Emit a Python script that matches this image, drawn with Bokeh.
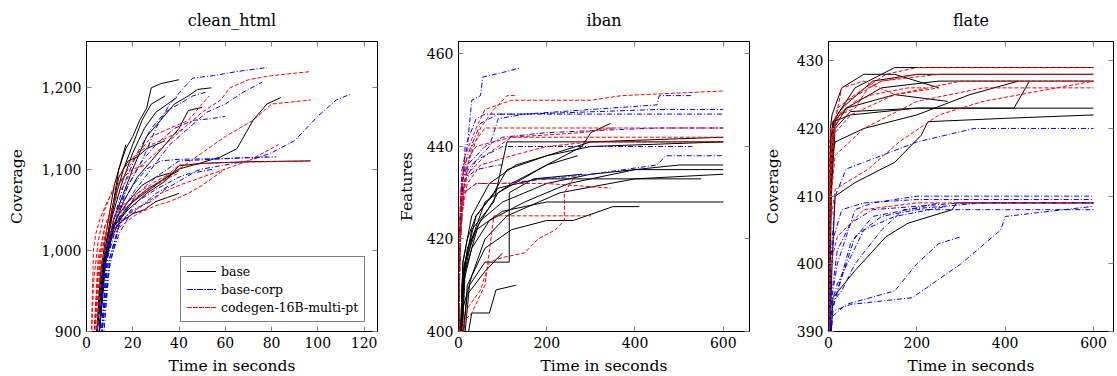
from bokeh.plotting import figure
from bokeh.layouts import row
from bokeh.models import Range1d, LinearAxis, FixedTicker, NumeralTickFormatter, CustomJSTickFormatter
from bokeh.embed import file_html
from bokeh.resources import INLINE

FONT = "DejaVu Serif"

SERIES = ["base", "base-corp", "codegen-16B-multi-pt"]
TITLES = ["clean_html", "iban", "flate"]
YLABELS = ["Coverage", "Features", "Coverage"]
XLABEL = "Time in seconds"

# ---- clean_html runs: (time, coverage) ----
CLEAN_BASE = [
    [(4,880),(6,960),(8,1000),(10,1030),(12,1065),(14,1100),(17,1125),(20,1140),(23,1160),(26,1175),(28,1200),(32,1205),(40,1210)],
    [(4,880),(7,980),(10,1030),(13,1070),(16,1100),(20,1130),(24,1160),(28,1180),(34,1190)],
    [(5,880),(8,990),(12,1040),(16,1070),(20,1100),(26,1140),(32,1160),(38,1180),(44,1190),(48,1198),(54,1200)],
    [(5,880),(8,985),(12,1030),(16,1060),(22,1090),(28,1110),(34,1130),(40,1150),(44,1172),(50,1176)],
    [(5,880),(8,990),(12,1030),(18,1055),(25,1070),(32,1085),(40,1100),(50,1108),(58,1115),(65,1125),(68,1140),(72,1160),(78,1180),(84,1188)],
    [(5,880),(8,980),(12,1030),(18,1050),(26,1070),(34,1085),(40,1104),(50,1107),(70,1109),(97,1110)],
    [(4,880),(7,970),(10,1010),(15,1040),(20,1060),(26,1075),(32,1085),(36,1092),(40,1098)],
    [(4,880),(6,970),(9,1030),(12,1080),(15,1110),(17,1130)],
    [(5,880),(8,990),(11,1040),(15,1080),(20,1120),(25,1150),(30,1170),(35,1180),(39,1188)],
    [(4,880),(7,975),(10,1020),(15,1035),(20,1045),(25,1050),(30,1060),(35,1065),(40,1070)],
    [(5,880),(8,1000),(11,1050),(14,1090),(18,1110),(22,1115),(26,1125),(30,1130),(34,1135)],
    [(5,880),(9,1010),(13,1040),(18,1060),(24,1080),(30,1090),(36,1095)],
]
CLEAN_CORP = [
    [(5,880),(8,980),(12,1040),(18,1080),(24,1110),(30,1150),(36,1180),(42,1200),(46,1212),(55,1215),(65,1220),(78,1225)],
    [(6,880),(9,990),(14,1040),(20,1070),(28,1100),(36,1130),(44,1150),(52,1170),(60,1180),(68,1195),(76,1207)],
    [(6,880),(9,980),(14,1030),(22,1060),(30,1075),(40,1090),(50,1100),(60,1105),(70,1110),(80,1120),(90,1135),(100,1165),(108,1185),(114,1192)],
    [(6,880),(10,990),(15,1040),(22,1070),(30,1090),(40,1110),(55,1112),(70,1114),(82,1115)],
    [(5,880),(8,985),(12,1040),(16,1080),(22,1120),(28,1150),(34,1170),(40,1180),(46,1190),(52,1195)],
    [(6,880),(9,990),(13,1040),(18,1080),(24,1110),(30,1130),(38,1150),(46,1160),(54,1162),(60,1165)],
    [(6,880),(10,980),(14,1030),(20,1050),(28,1060),(34,1075),(40,1085),(46,1095),(55,1100)],
    [(7,880),(10,985),(14,1020),(18,1040),(24,1055),(30,1070),(36,1080)],
    [(6,880),(9,1000),(12,1040),(16,1060),(20,1080),(26,1100),(32,1110),(40,1112),(60,1113),(78,1115)],
]
CLEAN_CG = [
    [(3,880),(5,980),(8,1030),(12,1060),(18,1090),(26,1110),(34,1130),(42,1150),(50,1170),(58,1185),(62,1200),(70,1210),(80,1215),(97,1220)],
    [(3,880),(5,970),(8,1020),(14,1050),(22,1070),(30,1085),(40,1100),(50,1120),(60,1140),(66,1150),(72,1160),(80,1180),(97,1185)],
    [(3,880),(6,980),(10,1020),(16,1040),(24,1055),(32,1070),(40,1080),(50,1090),(60,1100),(70,1110),(83,1130)],
    [(4,880),(6,990),(10,1040),(14,1080),(20,1110),(28,1140),(36,1150),(44,1160),(50,1180),(53,1190)],
    [(3,880),(5,970),(9,1010),(15,1030),(22,1045),(30,1055),(36,1060),(44,1070),(50,1080),(55,1090),(60,1100)],
    [(2,880),(3,960),(5,1010),(8,1050),(12,1080),(16,1100),(22,1120),(28,1130),(36,1140),(42,1150)],
    [(3,880),(5,990),(8,1030),(12,1050),(18,1060),(24,1070),(30,1080),(36,1090),(40,1095)],
    [(4,880),(7,990),(12,1040),(20,1060),(30,1080),(40,1105),(60,1108),(97,1110)],
    [(2,880),(3,1000),(4,1020),(6,1040),(9,1060),(12,1075),(16,1090),(20,1100),(26,1105)],
]

# ---- iban runs: (time, features) ----
IBAN_BASE = [
    [(2,385),(5,400),(10,415),(20,420),(40,425),(80,430),(110,435),(200,438),(300,441),(600,442)],
    [(3,390),(8,410),(20,418),(50,424),(100,428),(200,432),(300,434),(500,436),(600,436)],
    [(4,390),(10,405),(30,412),(60,420),(110,425),(230,430),(400,433),(600,434)],
    [(3,385),(10,410),(30,418),(70,424),(150,428),(250,432),(400,435),(600,435)],
    [(4,390),(15,415),(40,422),(100,426),(200,428),(600,428)],
    [(3,390),(12,412),(30,420),(60,428),(120,432),(200,436),(280,440),(300,443),(345,445)],
    [(5,390),(30,404),(70,404),(85,409),(130,410)],
    [(5,395),(20,408),(60,413),(100,417)],
    [(4,390),(20,410),(60,418),(120,422),(200,424),(260,424),(350,427),(410,427)],
    [(3,390),(10,412),(30,422),(80,428),(110,441),(300,441),(600,441)],
    [(3,390),(12,414),(40,425),(90,431),(180,433),(330,433),(550,433)],
    [(4,390),(15,413),(45,423),(90,430),(200,436),(270,438)],
    [(3,395),(10,415),(30,425),(70,432),(130,436),(200,438),(300,440),(600,441)],
    [(5,390),(25,410),(60,415),(115,415),(115,430),(170,433),(280,434)],
]
IBAN_CORP = [
    [(1,400),(3,425),(8,435),(20,440),(30,450),(50,451),(55,455),(100,456),(140,457)],
    [(1,400),(3,420),(8,430),(15,440),(40,446),(60,447),(150,447),(450,448),(600,448)],
    [(1,400),(3,422),(8,432),(20,438),(50,445),(90,447),(300,447),(600,447)],
    [(1,400),(3,420),(7,432),(20,436),(60,440),(100,442),(200,443),(450,444),(600,444)],
    [(1,400),(3,420),(10,432),(40,437),(100,440),(300,440),(470,440),(530,440)],
    [(1,400),(3,418),(12,430),(40,432),(100,432),(200,433),(300,434),(450,436),(470,438),(600,438)],
    [(1,400),(3,420),(8,433),(30,436),(70,440),(90,446),(150,447),(300,448),(450,449),(455,451),(530,451)],
    [(1,400),(3,415),(7,428),(15,433),(40,435),(90,436),(100,436)],
]
IBAN_CG = [
    [(1,400),(3,420),(7,430),(15,438),(40,444),(60,448),(120,450),(300,450),(370,451),(600,452)],
    [(1,400),(3,418),(7,428),(20,436),(50,444),(80,448),(110,451),(130,451)],
    [(1,400),(3,420),(10,430),(30,440),(60,444),(200,444),(600,444)],
    [(1,400),(3,418),(8,428),(20,434),(60,438),(120,442),(250,442),(600,442)],
    [(1,400),(3,415),(7,425),(20,432),(50,436),(120,438),(200,440),(300,441),(600,441)],
    [(2,395),(20,405),(50,409),(70,415),(100,416),(150,417),(180,420),(220,422),(240,424),(240,430),(260,433)],
    [(2,390),(10,402),(30,404),(60,410),(80,425),(120,425),(300,425)],
    [(1,400),(3,418),(12,430),(40,432),(120,432),(200,432),(345,431)],
    [(1,400),(2,420),(5,430),(12,436),(40,440),(120,442),(280,443),(350,444)],
]

# ---- flate runs: (time, coverage) ----
FLATE_BASE = [
    [(2,385),(5,410),(10,420),(20,422),(60,426),(150,429),(600,429)],
    [(2,385),(5,412),(10,421),(30,423),(100,427),(200,428),(600,428)],
    [(2,385),(5,410),(12,420),(40,423),(120,426),(250,427),(600,427)],
    [(2,385),(6,410),(15,420),(50,422.5),(200,423),(600,423)],
    [(2,385),(8,400),(15,410),(60,412),(150,415),(210,419),(225,421),(400,421.5),(600,422)],
    [(3,385),(10,395),(60,399),(130,404),(180,406),(280,408),(290,409),(600,409)],
    [(2,385),(6,415),(12,421),(40,423),(150,425),(270,424)],
    [(2,385),(5,418),(10,421),(50,422),(200,423),(420,423),(455,427)],
    [(2,385),(5,415),(15,418),(80,420),(200,422),(320,425),(430,427)],
    [(2,385),(4,420),(8,422),(30,426),(80,428),(150,428),(250,426)],
]
FLATE_CORP = [
    [(1,385),(5,394),(20,400),(40,404),(60,408),(100,409),(200,410),(600,410)],
    [(1,385),(8,393),(30,398),(60,404),(120,407),(200,408),(600,408)],
    [(1,385),(6,395),(20,402),(50,406),(100,408),(300,409),(600,409)],
    [(1,385),(5,392),(40,394),(150,396),(200,400),(250,403),(300,404)],
    [(1,385),(10,393),(50,394),(190,395),(300,400),(390,405),(400,407),(600,408.5)],
    [(1,385),(5,394),(30,396),(60,400),(120,405),(170,408),(350,409),(600,409)],
    [(1,385),(6,394),(20,397),(80,405),(150,407),(270,408.5)],
    [(1,385),(5,400),(15,410),(40,414),(80,415),(200,418),(330,420),(600,420)],
    [(1,385),(3,392),(20,396),(50,403),(100,407),(180,408),(250,409)],
    [(1,385),(4,396),(12,404),(30,408),(80,409),(200,409.5),(600,409.5)],
]
FLATE_CG = [
    [(1,385),(3,410),(8,418),(20,423),(60,425),(130,428),(200,429),(600,429)],
    [(1,385),(3,412),(10,420),(40,424),(120,427),(250,428),(600,428)],
    [(1,385),(4,410),(10,419),(50,422),(150,425),(300,427),(600,427)],
    [(1,385),(3,408),(15,416),(80,420),(200,424),(350,426),(600,426)],
    [(1,385),(3,405),(15,411),(90,414),(160,418),(250,422),(350,424),(600,427)],
    [(1,385),(5,400),(20,404),(80,408),(200,409),(600,409)],
    [(1,385),(4,412),(15,421),(30,426),(80,427),(150,425),(250,426)],
    [(1,385),(3,415),(10,420),(30,422),(60,424),(100,425),(180,426),(220,426)],
    [(1,385),(3,418),(8,421),(25,422),(60,423),(90,426),(120,427),(200,428)],
]

X_TICKS = [[0, 20, 40, 60, 80, 100, 120], [0, 200, 400, 600], [0, 200, 400, 600]]
Y_TICKS = [[900, 1000, 1100, 1200], [400, 420, 440, 460], [390, 400, 410, 420, 430]]
X_RANGES = [(0, 125.8), (0, 659.5), (0, 645.3)]
Y_RANGES = [(900, 1257), (400, 462.7), (390, 432.85)]

COLORS = ["black", "#0000ff", "#ff0000"]
DASHES = ["solid", "5 2 1 2", "4 2"]


def style_axis(ax, label_standoff=8):
    ax.major_label_text_font = FONT
    ax.major_label_text_font_size = "14px"
    ax.major_label_text_color = "black"
    ax.axis_label_text_font = FONT
    ax.axis_label_text_font_size = "15.5px"
    ax.axis_label_text_font_style = "normal"
    ax.axis_label_text_color = "black"
    ax.axis_label_standoff = label_standoff
    ax.major_tick_in = 5
    ax.major_tick_out = 0
    ax.major_tick_line_color = "#808080"
    ax.minor_tick_line_color = None
    ax.axis_line_color = "black"
    ax.major_label_standoff = 5


def panel(i, runs, left, right, frame_w, ylab_standoff, legend=False):
    p = figure(frame_width=frame_w, frame_height=290,
               x_range=Range1d(*X_RANGES[i]), y_range=Range1d(*Y_RANGES[i]),
               output_backend="svg", toolbar_location=None,
               min_border_left=left, min_border_right=right,
               min_border_top=41, min_border_bottom=45, title=TITLES[i])
    p.title.text_font = FONT
    p.title.text_font_size = "16px"
    p.title.text_font_style = "normal"
    p.title.text_color = "black"
    p.title.align = "center"
    p.title.vertical_align = "top"
    p.title.standoff = 19
    p.xgrid.visible = False
    p.ygrid.visible = False
    p.outline_line_color = "black"
    p.outline_line_alpha = 1
    p.background_fill_color = "white"
    p.border_fill_color = "white"

    xa = p.xaxis[0]
    ya = p.yaxis[0]
    xa.ticker = FixedTicker(ticks=X_TICKS[i])
    ya.ticker = FixedTicker(ticks=Y_TICKS[i])
    if i == 0:
        ya.formatter = NumeralTickFormatter(format="0,0")
    xa.axis_label = XLABEL
    ya.axis_label = YLABELS[i]
    style_axis(xa, 6)
    style_axis(ya, ylab_standoff)

    blank = CustomJSTickFormatter(code="return ''")
    top = LinearAxis(ticker=FixedTicker(ticks=X_TICKS[i]), formatter=blank)
    rgt = LinearAxis(ticker=FixedTicker(ticks=Y_TICKS[i]), formatter=blank)
    for ax in (top, rgt):
        style_axis(ax, 0)
        ax.axis_line_color = None
        ax.major_label_standoff = 0
        ax.major_label_text_font_size = "0px"
    p.add_layout(top, "above")
    p.add_layout(rgt, "right")

    for k, series_runs in enumerate(runs):
        for r in series_runs:
            xs = [pt[0] for pt in r]
            ys = [pt[1] for pt in r]
            kw = dict(line_color=COLORS[k], line_width=1, line_dash=DASHES[k])
            if legend:
                kw["legend_label"] = SERIES[k]
            p.line(xs, ys, **kw)

    if legend:
        lg = p.legend[0]
        lg.location = (94, 9)
        lg.border_line_color = "black"
        lg.border_line_width = 1
        lg.background_fill_alpha = 1
        lg.label_text_font = FONT
        lg.label_text_font_size = "12.5px"
        lg.label_text_color = "black"
        lg.glyph_width = 29
        lg.glyph_height = 16
        lg.label_height = 16
        lg.spacing = 2
        lg.padding = 6
        lg.margin = 0
        lg.label_standoff = 5
    return p


p1 = panel(0, [CLEAN_BASE, CLEAN_CORP, CLEAN_CG], 86, 13, 291, 12, legend=True)
p2 = panel(1, [IBAN_BASE, IBAN_CORP, IBAN_CG], 68, 11, 291, 8)
p3 = panel(2, [FLATE_BASE, FLATE_CORP, FLATE_CG], 68, 4, 285, 12)

layout = row(p1, p2, p3, spacing=0)
open("out.html", "w").write(file_html(layout, INLINE))
